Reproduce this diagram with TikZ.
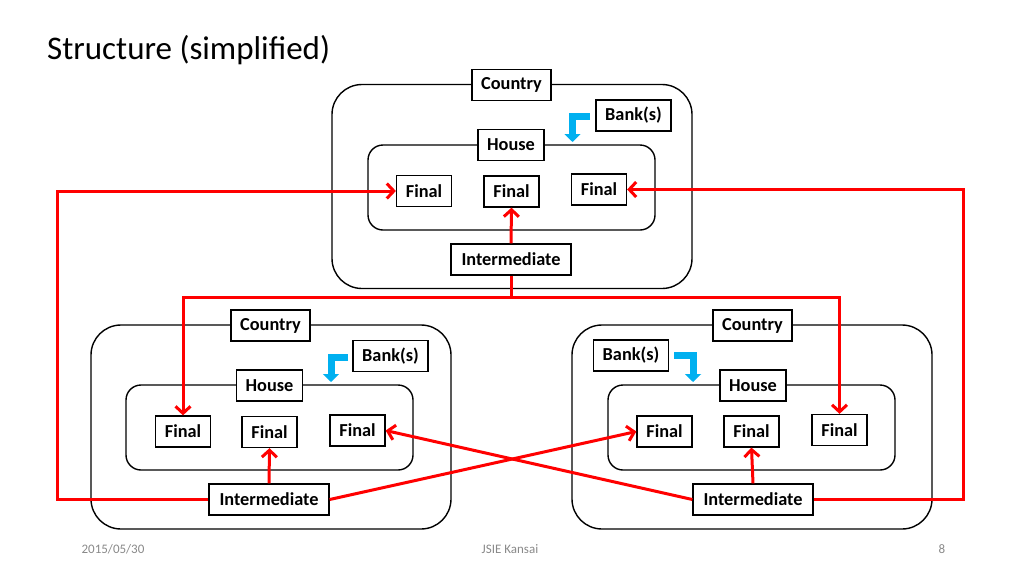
\documentclass[tikz,border=0pt]{standalone}
\usepackage{fontspec}
\setmainfont{Carlito}
\usetikzlibrary{arrows.meta}
\definecolor{linkred}{RGB}{255,0,0}
\definecolor{bankblue}{RGB}{0,176,240}
\definecolor{footgray}{RGB}{137,137,137}
\tikzset{
  countrybox/.style={draw=black,line width=1.4pt,rounded corners=30pt,minimum width=360pt,minimum height=204pt,inner sep=0pt},
  housebox/.style={draw=black,line width=1.4pt,rounded corners=15pt,minimum width=287pt,minimum height=85pt,inner sep=0pt},
  lbl/.style={draw=black,line width=1.3pt,fill=white,inner sep=0pt,minimum height=31pt,font=\fontsize{18.3}{21}\selectfont\bfseries},
  finalbox/.style={lbl,minimum width=55pt},
  interbox/.style={lbl,minimum width=120pt},
  ctrybox/.style={lbl,minimum width=79pt},
  hsbox/.style={lbl,minimum width=66pt},
  bankbox/.style={lbl,minimum width=75pt},
  link/.style={draw=linkred,line width=3pt,-{Straight Barb[length=7pt,width=15pt,line width=3pt]}},
  linkplain/.style={draw=linkred,line width=3pt},
  bankarrow/.style={draw=bankblue,line width=7pt,-{Triangle[length=8pt,width=16pt]}},
  foot/.style={text=footgray,font=\fontsize{13}{15}\selectfont}
}
\begin{document}
\begin{tikzpicture}[x=1pt,y=-1pt]
\useasboundingbox (0,0) rectangle (1024,576);
% title
\node[anchor=base west,inner sep=0pt,font=\fontsize{33}{38}\selectfont] (title) at (47,59) {Structure (simplified)};
% top country
\node[countrybox] (tc) at (512,186.5) {};
\node[housebox] (th) at (511.5,187.5) {};
\node[ctrybox] (tcl) at (511.5,85) {Country};
\node[bankbox] (tbk) at (633.5,115.5) {Bank(s)};
\node[hsbox] (thl) at (511,145) {House};
\node[finalbox] (tf1) at (424,191) {Final};
\node[finalbox] (tf2) at (511.5,191.5) {Final};
\node[finalbox] (tf3) at (599,189.5) {Final};
\node[interbox] (ti) at (511,259.5) {Intermediate};
% bottom left country
\node[countrybox] (lc) at (271,427) {};
\node[housebox] (lh) at (269.5,427.5) {};
\node[ctrybox] (lcl) at (270.5,325.5) {Country};
\node[bankbox] (lbk) at (390.5,356) {Bank(s)};
\node[hsbox] (lhl) at (269.5,385.5) {House};
\node[finalbox] (lf1) at (183,431.5) {Final};
\node[finalbox] (lf2) at (269.5,432) {Final};
\node[finalbox] (lf3) at (357.5,430.5) {Final};
\node[interbox] (li) at (269,499.5) {Intermediate};
% bottom right country
\node[countrybox] (rc) at (752,427) {};
\node[housebox] (rh) at (751.5,427.5) {};
\node[ctrybox] (rcl) at (752.5,325.5) {Country};
\node[bankbox] (rbk) at (631,355.5) {Bank(s)};
\node[hsbox] (rhl) at (753,385.5) {House};
\node[finalbox] (rf1) at (664.5,431.5) {Final};
\node[finalbox] (rf2) at (751.5,431.5) {Final};
\node[finalbox] (rf3) at (839.5,430) {Final};
\node[interbox] (ri) at (753,499.5) {Intermediate};
% bank arrows
\coordinate (tba) at (590,116.5);
\coordinate (lba) at (348,357);
\coordinate (rba) at (674,355);
\draw[bankarrow] (tba) -- (572.5,116.5) -- (572.5,142);
\draw[bankarrow] (lba) -- (331,357) -- (331,382);
\draw[bankarrow] (rba) -- (693,355) -- (693,382);
% red connectors
\coordinate (jn) at (511,297);
\draw[link] (ti.north) -- (tf2.south);
\draw[link] (li.north) -- (lf2.south);
\draw[link] (ri.north) -- (rf2.south);
\draw[linkplain] (ti.south) -- (jn);
\draw[link] (jn) -| (lf1.north);
\draw[link] (jn) -| (rf3.north);
\coordinate (lw) at (57,499.5);
\coordinate (re) at (963,499.5);
\draw[link] (li.west) -- (lw) |- (tf1.west);
\draw[link] (ri.east) -- (re) |- (tf3.east);
\draw[link] (li.east) -- (rf1.west);
\draw[link] (ri.west) -- (lf3.east);
% footer
\node[foot,anchor=base] (date) at (113,553) {2015/05/30};
\node[foot,anchor=base] (conf) at (510,553) {JSIE Kansai};
\node[foot,anchor=base] (page) at (942,553) {8};
\end{tikzpicture}
\end{document}
